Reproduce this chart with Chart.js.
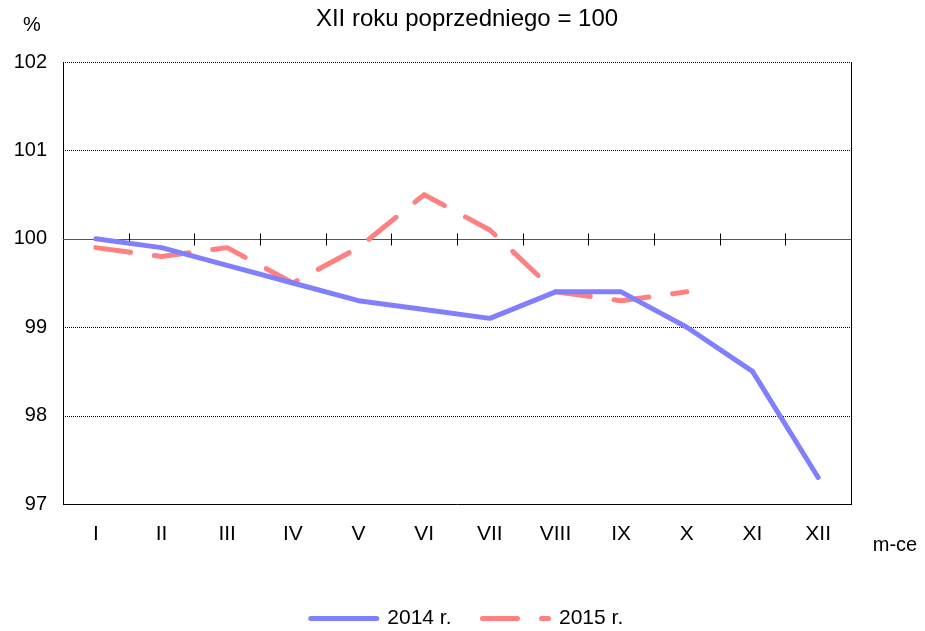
<!DOCTYPE html>
<html>
<head>
<meta charset="utf-8">
<script src="https://cdn.jsdelivr.net/npm/chart.js@4.4.0/dist/chart.umd.min.js"></script>
<style>
  html, body { margin: 0; padding: 0; background: #fff; }
  #wrap { width: 925px; height: 631px; position: relative; }
</style>
</head>
<body>
<div id="wrap"><canvas id="chart"></canvas></div>
<script>
const months = ["I", "II", "III", "IV", "V", "VI", "VII", "VIII", "IX", "X", "XI", "XII"];
const values2014 = [100, 99.9, 99.7, 99.5, 99.3, 99.2, 99.1, 99.4, 99.4, 99.0, 98.5, 97.3];
const values2015 = [99.9, 99.8, 99.9, 99.5, 99.9, 100.5, 100.1, 99.4, 99.3, 99.4, null, null];
const yTicks = [97, 98, 99, 100, 101, 102];
const dottedLevels = [98, 99, 101, 102];
const baseLevel = 100;

const FONT = "'Liberation Sans', Arial, sans-serif";

// grid lines, the 100 line with its tick marks, and loose texts
const decorPlugin = {
  id: "decor",
  beforeDatasetsDraw(chart) {
    const ctx = chart.ctx;
    const area = chart.chartArea;
    const xs = chart.scales.x;
    const ys = chart.scales.y;
    ctx.save();
    ctx.lineWidth = 1;
    ctx.strokeStyle = "#000";
    ctx.setLineDash([1, 1]);
    dottedLevels.forEach(v => {
      const py = Math.round(ys.getPixelForValue(v)) + 0.5;
      ctx.beginPath();
      ctx.moveTo(area.left, py);
      ctx.lineTo(area.right, py);
      ctx.stroke();
    });
    ctx.setLineDash([]);
    ctx.strokeStyle = "#555";
    const by = Math.round(ys.getPixelForValue(baseLevel)) + 0.5;
    ctx.beginPath();
    ctx.moveTo(area.left, by);
    ctx.lineTo(area.right, by);
    ctx.stroke();
    ctx.strokeStyle = "#000";
    for (let i = 1; i < months.length; i++) {
      const px = Math.round((xs.getPixelForTick(i - 1) + xs.getPixelForTick(i)) / 2) + 0.5;
      ctx.beginPath();
      ctx.moveTo(px, by - 6);
      ctx.lineTo(px, by + 6);
      ctx.stroke();
    }
    ctx.restore();
  },
  afterDraw(chart) {
    const ctx = chart.ctx;
    ctx.save();
    ctx.fillStyle = "#000";
    ctx.textAlign = "center";
    ctx.textBaseline = "middle";
    ctx.font = "24px " + FONT;
    ctx.fillText("XII roku poprzedniego = 100", 467, 19);
    ctx.font = "20px " + FONT;
    ctx.fillText("%", 32, 25);
    ctx.fillText("m-ce", 895, 545);
    ctx.restore();
  }
};

new Chart(document.getElementById("chart"), {
  type: "line",
  data: {
    labels: months,
    datasets: [
      {
        label: "2014 r.",
        data: values2014,
        borderColor: "#8080FF",
        backgroundColor: "#8080FF",
        borderWidth: 5,
        borderCapStyle: "round",
        borderJoinStyle: "round",
        pointRadius: 0,
        tension: 0
      },
      {
        label: "2015 r.",
        data: values2015,
        borderColor: "#FF8080",
        backgroundColor: "#FF8080",
        borderWidth: 5,
        borderDash: [35, 24],
        borderCapStyle: "round",
        borderJoinStyle: "round",
        pointRadius: 0,
        tension: 0
      }
    ]
  },
  options: {
    responsive: true,
    maintainAspectRatio: false,
    animation: false,
    layout: { padding: { top: 62, left: 9, right: 0, bottom: 0 } },
    plugins: {
      tooltip: { enabled: false },
      legend: {
        position: "bottom",
        maxHeight: 54,
        labels: {
          usePointStyle: true,
          pointStyle: "line",
          pointStyleWidth: 66,
          padding: 31,
          color: "#000",
          font: { family: FONT, size: 21 },
          generateLabels(chart) {
            const items = Chart.defaults.plugins.legend.labels.generateLabels(chart);
            items.forEach(it => {
              const ds = chart.data.datasets[it.datasetIndex];
              it.lineDash = ds.borderDash || [];
              it.lineDashOffset = 0;
              it.lineCap = "round";
              it.lineWidth = ds.borderWidth;
              it.strokeStyle = ds.borderColor;
            });
            return items;
          }
        }
      }
    },
    scales: {
      x: {
        offset: true,
        grid: { display: false, drawTicks: false },
        border: { display: true, color: "#000", width: 1 },
        ticks: {
          color: "#000",
          padding: 18,
          maxRotation: 0,
          font: { family: FONT, size: 21 }
        },
        afterFit(scale) { scale.height = 73; }
      },
      y: {
        min: 97,
        max: 102,
        afterBuildTicks(scale) { scale.ticks = yTicks.map(v => ({ value: v })); },
        grid: { display: false, drawTicks: false },
        border: { display: true, color: "#000", width: 1 },
        ticks: {
          color: "#000",
          padding: 16,
          font: { family: FONT, size: 20 }
        },
        afterFit(scale) { scale.width = 54; }
      },
      y2: {
        position: "right",
        min: 97,
        max: 102,
        grid: { display: false, drawTicks: false },
        border: { display: true, color: "#000", width: 1 },
        ticks: { display: false },
        afterFit(scale) { scale.width = 74; }
      }
    }
  },
  plugins: [decorPlugin]
});
</script>
</body>
</html>
